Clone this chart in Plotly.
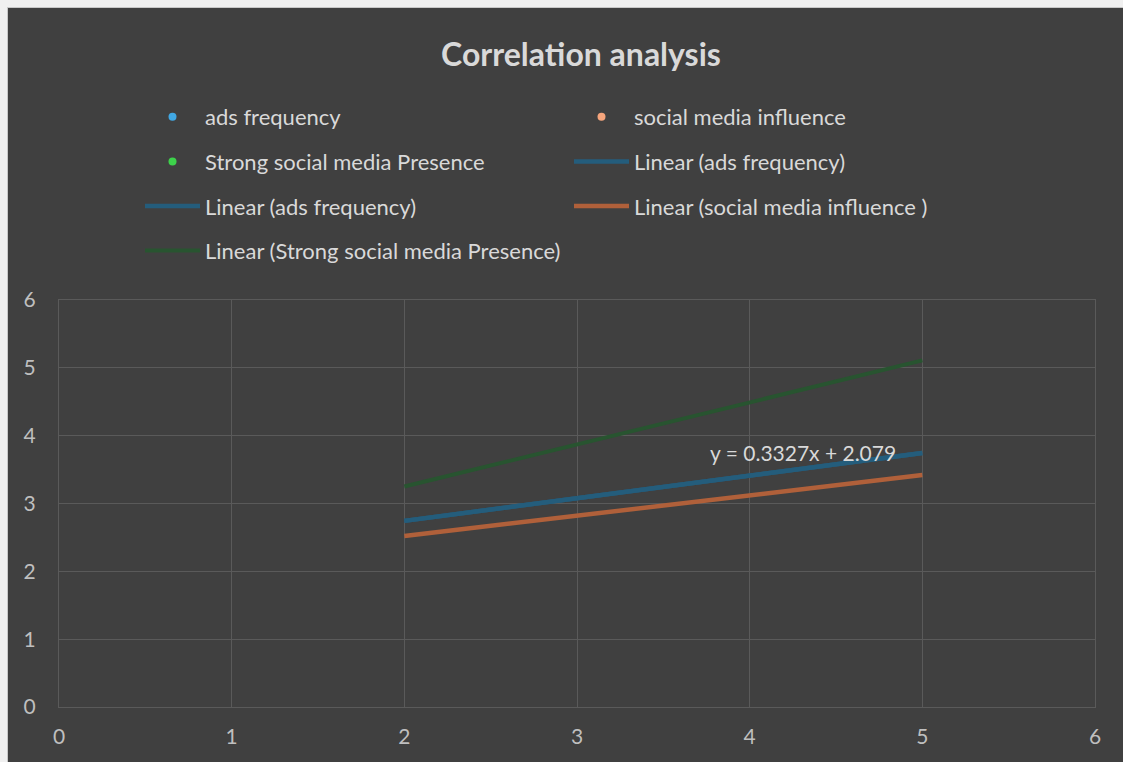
import plotly.graph_objects as go

# ---- data ----
fit_x = [2, 5]
ads_slope, ads_intercept = 0.3327, 2.079
ads_fit_y = [2.744, 3.743]
social_fit_y = [2.52, 3.42]
strong_fit_y = [3.25, 5.11]
x_ticks = [0, 1, 2, 3, 4, 5, 6]
y_ticks = [0, 1, 2, 3, 4, 5, 6]

FONT = "Lato"
TXT = "#d9d9d9"
TICK = "#bfbfbf"
BG = "#404040"
GRID = "#5a5a5a"

fig = go.Figure()

# legend 1 (left column)
fig.add_trace(go.Scatter(x=[None], y=[None], mode="markers", name="ads frequency",
                         marker=dict(color="#41a8e4", size=8), legend="legend", legendgroup="a"))
fig.add_trace(go.Scatter(x=[None], y=[None], mode="markers", name="Strong social media Presence",
                         marker=dict(color="#3dd24b", size=8), legend="legend", legendgroup="b"))
fig.add_trace(go.Scatter(x=fit_x, y=ads_fit_y, mode="lines", name="Linear (ads frequency)",
                         line=dict(color="#245d7c", width=4.5), legend="legend", legendgroup="c"))
fig.add_trace(go.Scatter(x=fit_x, y=strong_fit_y, mode="lines", name="Linear (Strong social media Presence)",
                         line=dict(color="#285430", width=4), legend="legend", legendgroup="d"))
# legend 2 (right column)
fig.add_trace(go.Scatter(x=[None], y=[None], mode="markers", name="social media influence",
                         marker=dict(color="#f6a57c", size=8), legend="legend2", legendgroup="e"))
fig.add_trace(go.Scatter(x=fit_x, y=ads_fit_y, mode="lines", name="Linear (ads frequency)",
                         line=dict(color="#245d7c", width=4.5), legend="legend2", legendgroup="f"))
fig.add_trace(go.Scatter(x=fit_x, y=social_fit_y, mode="lines", name="Linear (social media influence )",
                         line=dict(color="#b0603a", width=4.5), legend="legend2", legendgroup="g"))

fig.add_annotation(x=4.31, y=3.745, xref="x", yref="y", showarrow=False,
                   text=f"y = {ads_slope}x + {ads_intercept}",
                   font=dict(family=FONT, size=21, color=TXT))

W, H = 1123, 754
L, R, T, B = 51, 36, 292, 55
pw, ph = W - L - R, H - T - B

def px(xp):
    return (xp - L) / pw

def py(yp):
    return (H - B - yp) / ph

legend_common = dict(
    orientation="v", bgcolor="rgba(0,0,0,0)", borderwidth=0,
    font=dict(family=FONT, size=22, color=TXT), itemwidth=55,
    tracegroupgap=13, xanchor="left", yanchor="top", itemclick=False,
)

fig.update_layout(
    width=W, height=H,
    margin=dict(l=L, r=R, t=T, b=B, pad=0),
    paper_bgcolor=BG, plot_bgcolor=BG,
    title=dict(text="<b>Correlation analysis</b>", x=px(573), xanchor="center",
               xref="paper", y=1 - 47 / H, yanchor="middle",
               font=dict(family=FONT, size=32, color=TXT)),
    showlegend=True,
    legend=dict(**legend_common, x=px(132), y=py(88)),
    legend2=dict(**legend_common, x=px(561), y=py(88)),
    xaxis=dict(range=[0, 6], tickvals=x_ticks, showgrid=True, gridcolor=GRID, gridwidth=1,
               zeroline=False, showline=True, linecolor=GRID, mirror=True,
               tickfont=dict(family=FONT, size=21, color=TICK), ticks="", ticklabelstandoff=11),
    yaxis=dict(range=[0, 6], tickvals=y_ticks, showgrid=True, gridcolor=GRID, gridwidth=1,
               zeroline=False, showline=True, linecolor=GRID, mirror=True,
               tickfont=dict(family=FONT, size=21, color=TICK), ticks="", ticklabelstandoff=18),
    hovermode=False,
)

post = (
    "var b=document.body;b.style.margin='0';b.style.overflow='hidden';"
    "b.style.background='#404040';"
    "b.style.borderTop='7px solid #f0f0f0';b.style.borderLeft='7px solid #f0f0f0';"
    "var d=document.querySelector('.plotly-graph-div');"
    "if(d){d.style.borderTop='1px solid #c8c8c8';d.style.borderLeft='1px solid #c8c8c8';}"
)

fig.write_html("out.html", post_script=post)
